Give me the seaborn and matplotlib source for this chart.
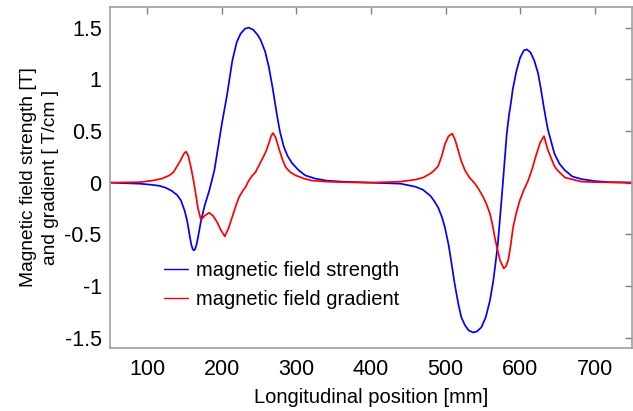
import matplotlib
matplotlib.use("Agg")
import matplotlib.pyplot as plt
import seaborn as sns
import pandas as pd

# Magnetic field strength [T] vs longitudinal position [mm]
strength_x = [50, 90, 105, 116, 125, 133, 140, 145, 150, 153.5, 157, 159, 161, 162.5, 164, 166, 168,
              172, 177, 183, 190, 200, 207, 214, 220, 225, 231, 236, 242, 248, 252, 258, 263, 268,
              274, 278, 283, 288, 294, 303, 312, 325, 340, 360, 400, 440, 460, 470, 480, 485, 490,
              495, 499, 504, 508, 512, 517, 521, 526, 531, 537, 542, 548, 554, 559.5, 564, 568, 570,
              575, 578, 582, 585, 588, 590, 595, 600, 605, 609, 614, 619, 624, 628, 632, 637, 646,
              653, 660, 670, 682, 700, 720, 750]
strength_y = [0.0, -0.01, -0.02, -0.03, -0.05, -0.08, -0.12, -0.17, -0.27, -0.37, -0.52, -0.60, -0.645,
              -0.655, -0.645, -0.60, -0.53, -0.37, -0.22, -0.08, 0.12, 0.57, 0.85, 1.18, 1.36, 1.44,
              1.49, 1.50, 1.48, 1.43, 1.38, 1.27, 1.12, 0.92, 0.65, 0.49, 0.35, 0.26, 0.19, 0.12, 0.07,
              0.04, 0.02, 0.01, 0.0, -0.01, -0.04, -0.07, -0.13, -0.18, -0.24, -0.33, -0.43, -0.60,
              -0.78, -0.97, -1.17, -1.30, -1.38, -1.43, -1.45, -1.44, -1.40, -1.30, -1.14, -0.95,
              -0.72, -0.60, -0.17, 0.10, 0.47, 0.65, 0.79, 0.90, 1.08, 1.21, 1.28, 1.29, 1.26, 1.18,
              1.06, 0.90, 0.72, 0.52, 0.28, 0.18, 0.12, 0.06, 0.035, 0.015, 0.005, 0.0]

# Magnetic field gradient [T/cm] vs longitudinal position [mm]
gradient_x = [50, 90, 107, 120, 129.5, 135, 140, 145, 149, 152, 155, 158.5, 162, 165, 168, 172, 177,
              183, 188, 193.5, 198, 204, 209, 214, 218, 223, 228, 232, 236, 241, 245, 250, 255, 259,
              263, 266, 268.5, 272, 276.5, 281, 285.5, 292, 299, 310, 321, 340, 360, 400, 440, 460,
              470, 480, 485, 490, 495, 499, 504, 509, 513, 517, 521, 526, 532, 539.5, 545, 550.5, 555,
              559.5, 563, 566, 570, 573, 578, 581, 584, 587, 590.6, 595, 599.6, 605, 610.7, 616, 622,
              627, 632, 637, 642, 646, 650, 660, 682, 700, 750]
gradient_y = [0.0, 0.005, 0.02, 0.04, 0.07, 0.10, 0.16, 0.22, 0.28, 0.30, 0.26, 0.15, 0.02, -0.11,
              -0.25, -0.36, -0.32, -0.29, -0.32, -0.38, -0.45, -0.52, -0.44, -0.33, -0.24, -0.14,
              -0.08, -0.04, 0.02, 0.07, 0.10, 0.17, 0.24, 0.30, 0.38, 0.45, 0.48, 0.44, 0.33, 0.23,
              0.15, 0.10, 0.07, 0.04, 0.02, 0.01, 0.005, 0.0, 0.01, 0.03, 0.05, 0.09, 0.12, 0.16,
              0.26, 0.37, 0.45, 0.475, 0.41, 0.31, 0.21, 0.12, 0.05, -0.01, -0.07, -0.14, -0.21,
              -0.30, -0.41, -0.53, -0.66, -0.75, -0.83, -0.81, -0.75, -0.62, -0.43, -0.29, -0.17,
              -0.07, 0.02, 0.13, 0.28, 0.39, 0.45, 0.32, 0.23, 0.16, 0.12, 0.05, 0.01, 0.005, 0.0]

series_names = ["magnetic field strength", "magnetic field gradient"]
x_ticks = [100, 200, 300, 400, 500, 600, 700]
y_ticks = [-1.5, -1, -0.5, 0, 0.5, 1, 1.5]
y_tick_labels = ["-1.5", "-1", "-0.5", "0", "0.5", "1", "1.5"]

df = pd.concat([
    pd.DataFrame({"x": strength_x, "y": strength_y, "series": series_names[0]}),
    pd.DataFrame({"x": gradient_x, "y": gradient_y, "series": series_names[1]}),
])

sns.set_theme(style="white")
plt.rcParams["font.family"] = ["Liberation Sans", "DejaVu Sans"]
plt.rcParams["text.color"] = "black"
plt.rcParams["axes.labelcolor"] = "black"

fig = plt.figure(figsize=(6.33, 4.11), dpi=100)
ax = fig.add_axes([110 / 633, 1 - 348 / 411, 522 / 633, 341 / 411])

sns.lineplot(data=df, x="x", y="y", hue="series", sort=False, estimator=None,
             palette={series_names[0]: "#0000ff", series_names[1]: "#ff0000"},
             linewidth=1.25, ax=ax)

ax.set_xlim(50, 750)
ax.set_ylim(-1.6, 1.7)
ax.set_xticks(x_ticks)
ax.set_xticklabels([str(t) for t in x_ticks])
ax.set_yticks(y_ticks)
ax.set_yticklabels(y_tick_labels)
ax.tick_params(direction="in", length=5, width=1, color="#808080", labelsize=15.5,
               top=True, right=True, labelcolor="black")
ax.tick_params(axis="x", pad=8)
ax.tick_params(axis="y", pad=6)
for s in ax.spines.values():
    s.set_color("#a0a0a0")
    s.set_linewidth(1.2)

ax.set_xlabel("Longitudinal position [mm]", fontsize=14.5, labelpad=6, color="black")
ax.set_ylabel("Magnetic field strength [T]\nand gradient [ T/cm ]", fontsize=13.8, labelpad=4,
              linespacing=1.35, color="black")

leg = ax.legend(loc="lower left", bbox_to_anchor=(0.068, 0.061), frameon=False, fontsize=14.5,
                handlelength=1.2, handletextpad=0.4, labelspacing=0.5)
for line in leg.get_lines():
    line.set_linewidth(1.0)
for t in leg.get_texts():
    t.set_color("black")

fig.savefig("out.png", dpi=100)
